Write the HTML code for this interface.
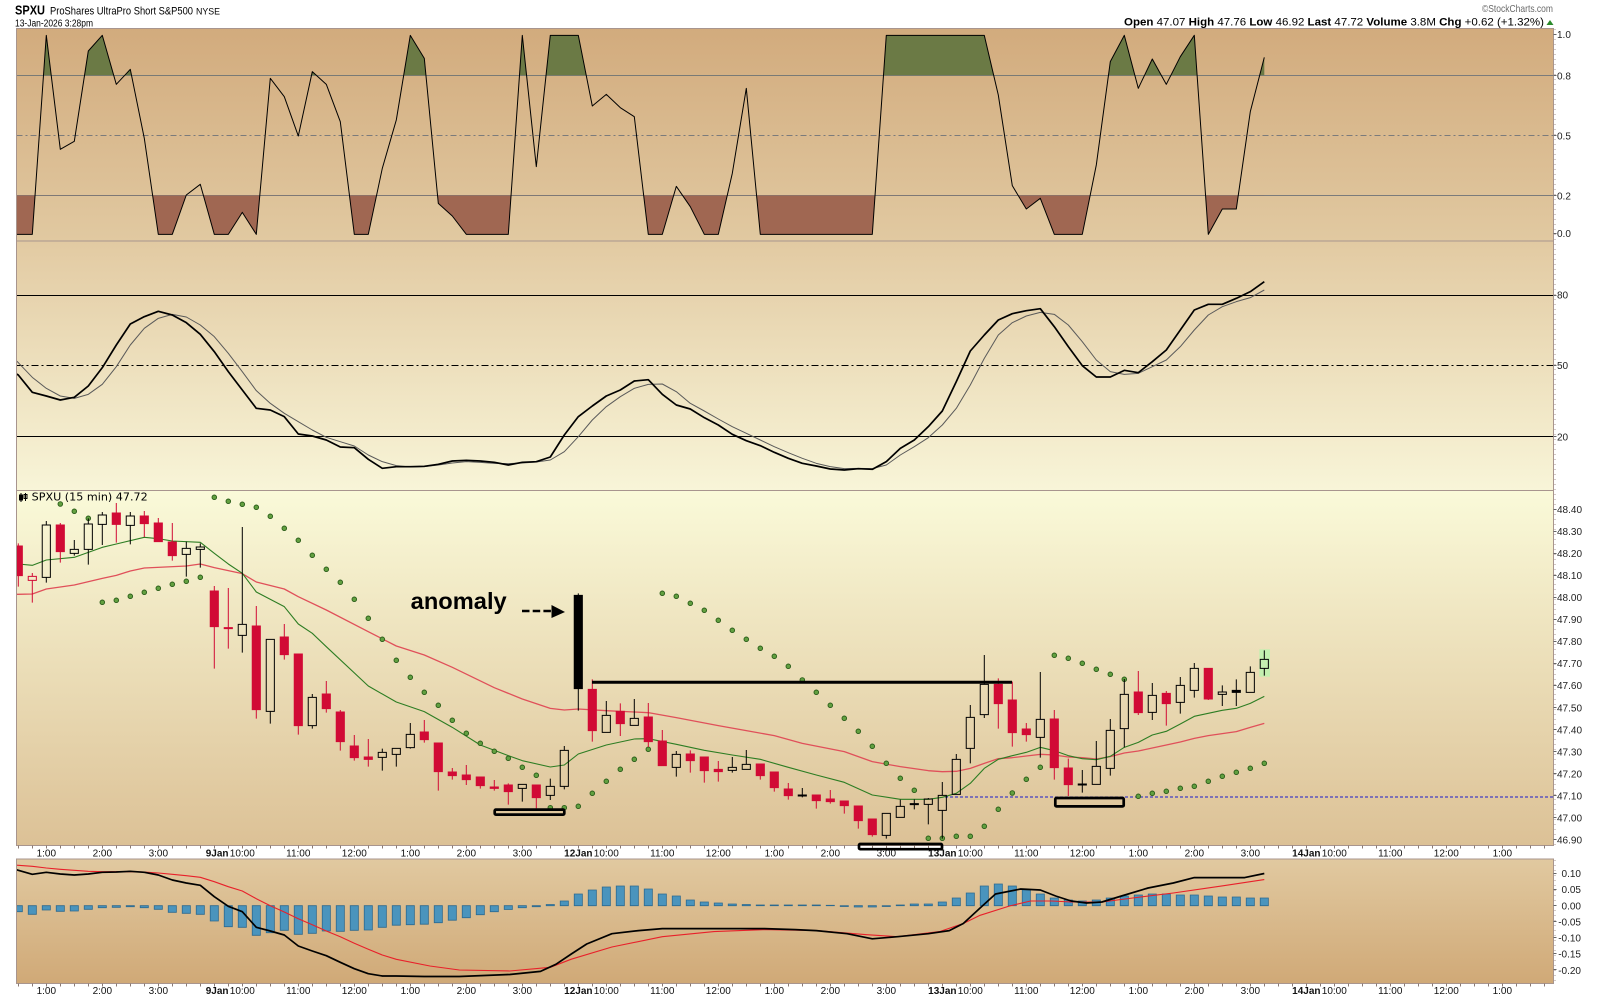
<!DOCTYPE html>
<html><head><meta charset="utf-8"><style>
html,body{margin:0;padding:0;background:#fff;}
svg{display:block;font-family:"Liberation Sans",Arial,sans-serif;}
</style></head><body>
<svg width="1600" height="1000" viewBox="0 0 1600 1000" xmlns="http://www.w3.org/2000/svg">
<defs>
<linearGradient id="gTop" x1="0" y1="0" x2="0" y2="1"><stop offset="0" stop-color="#d2ab7d"/><stop offset="1" stop-color="#e1c9a1"/></linearGradient>
<linearGradient id="gSto" x1="0" y1="0" x2="0" y2="1"><stop offset="0" stop-color="#e2caa2"/><stop offset="1" stop-color="#f8f5d8"/></linearGradient>
<linearGradient id="gPx" x1="0" y1="0" x2="0" y2="1"><stop offset="0" stop-color="#fafad9"/><stop offset="1" stop-color="#dcc196"/></linearGradient>
<linearGradient id="gMacd" x1="0" y1="0" x2="0" y2="1"><stop offset="0" stop-color="#e1c9a0"/><stop offset="1" stop-color="#d0a977"/></linearGradient>
<clipPath id="cTopG" clipPathUnits="userSpaceOnUse"><rect x="-5" y="0" width="100" height="151"/></clipPath>
<clipPath id="cTopB" clipPathUnits="userSpaceOnUse"><rect x="-5" y="511" width="100" height="300"/></clipPath>
<clipPath id="cTopP"><rect x="16.5" y="28.5" width="1537" height="212.5"/></clipPath>
<clipPath id="cSto"><rect x="16.5" y="241" width="1537" height="249.5"/></clipPath>
<clipPath id="cPx"><rect x="16.5" y="490.5" width="1537" height="355"/></clipPath>
<clipPath id="cMacd"><rect x="16.5" y="859" width="1537" height="124.5"/></clipPath>
</defs>

<!-- Header -->
<text x="15" y="14.5" font-weight="bold" font-size="13" textLength="30" lengthAdjust="spacingAndGlyphs" fill="#000">SPXU</text>
<text x="50" y="14.5" font-size="11" textLength="143" lengthAdjust="spacingAndGlyphs" fill="#000">ProShares UltraPro Short S&amp;P500</text>
<text x="196" y="14.5" font-size="9" textLength="24" lengthAdjust="spacingAndGlyphs" fill="#000">NYSE</text>
<text x="15" y="26.5" font-size="10" textLength="78" lengthAdjust="spacingAndGlyphs" fill="#000">13-Jan-2026 3:28pm</text>
<text x="1482" y="12" font-size="10.5" fill="#6a6a6a" textLength="71" lengthAdjust="spacingAndGlyphs">©StockCharts.com</text>
<text x="1124" y="25.5" font-size="11" textLength="420" lengthAdjust="spacingAndGlyphs" fill="#000"><tspan font-weight="bold">Open</tspan> 47.07 <tspan font-weight="bold">High</tspan> 47.76 <tspan font-weight="bold">Low</tspan> 46.92 <tspan font-weight="bold">Last</tspan> 47.72 <tspan font-weight="bold">Volume</tspan> 3.8M <tspan font-weight="bold">Chg</tspan> +0.62 (+1.32%)</text>
<polygon points="1546.5,25 1553.5,25 1550,20" fill="#2a8a2a"/>

<!-- Panels -->
<rect x="16.5" y="28.5" width="1537" height="212.5" fill="url(#gTop)"/>
<rect x="16.5" y="241" width="1537" height="249.5" fill="url(#gSto)"/>
<rect x="16.5" y="490.5" width="1537" height="355" fill="url(#gPx)"/>
<rect x="16.5" y="859" width="1537" height="124.5" fill="url(#gMacd)"/>

<!-- Top panel levels -->
<line x1="16.5" y1="75.5" x2="1553.5" y2="75.5" stroke="#7b7b7b" stroke-width="1"/>
<line x1="16.5" y1="135.5" x2="1553.5" y2="135.5" stroke="#7b7b7b" stroke-width="1" stroke-dasharray="6,3,2,3"/>
<line x1="16.5" y1="195.5" x2="1553.5" y2="195.5" stroke="#7b7b7b" stroke-width="1"/>

<g clip-path="url(#cTopP)">
<g transform="translate(18.3,25) scale(14,0.333333)">
<polygon clip-path="url(#cTopG)" fill="#6b7a45" points="0,151 0,628 1,628 2,31 3,373 4,349 5,78 6,31 7,178 8,133 9,340 10,628 11,628 12,510 13,478 14,628 15,628 16,562 17,628 18,160 19,215 20,333 21,140 22,178 23,290 24,628 25,628 26,430 27,285 28,31 29,100 30,535 31,573 32,628 33,628 34,628 35,628 36,31 37,425 38,31 39,31 40,31 41,243 42,208 43,248 44,275 45,628 46,628 47,484 48,545 49,628 50,628 51,445 52,190 53,628 54,628 55,628 56,628 57,628 58,628 59,628 60,628 61,628 62,31 63,31 64,31 65,31 66,31 67,31 68,31 69,31 70,210 71,482 72,552 73,520 74,628 75,628 76,628 77,420 78,110 79,31 80,190 81,102 82,178 83,95 84,31 85,628 86,552 87,552 88,260 89,97 89,151"/>
<polygon clip-path="url(#cTopB)" fill="#a06752" points="-0.2,511 -0.2,628 0,628 1,628 2,31 3,373 4,349 5,78 6,31 7,178 8,133 9,340 10,628 11,628 12,510 13,478 14,628 15,628 16,562 17,628 18,160 19,215 20,333 21,140 22,178 23,290 24,628 25,628 26,430 27,285 28,31 29,100 30,535 31,573 32,628 33,628 34,628 35,628 36,31 37,425 38,31 39,31 40,31 41,243 42,208 43,248 44,275 45,628 46,628 47,484 48,545 49,628 50,628 51,445 52,190 53,628 54,628 55,628 56,628 57,628 58,628 59,628 60,628 61,628 62,31 63,31 64,31 65,31 66,31 67,31 68,31 69,31 70,210 71,482 72,552 73,520 74,628 75,628 76,628 77,420 78,110 79,31 80,190 81,102 82,178 83,95 84,31 85,628 86,552 87,552 88,260 89,97 89,511"/>
<polyline fill="none" stroke="#000" stroke-width="1" vector-effect="non-scaling-stroke" stroke-linejoin="round" points="-0.2,628 0,628 1,628 2,31 3,373 4,349 5,78 6,31 7,178 8,133 9,340 10,628 11,628 12,510 13,478 14,628 15,628 16,562 17,628 18,160 19,215 20,333 21,140 22,178 23,290 24,628 25,628 26,430 27,285 28,31 29,100 30,535 31,573 32,628 33,628 34,628 35,628 36,31 37,425 38,31 39,31 40,31 41,243 42,208 43,248 44,275 45,628 46,628 47,484 48,545 49,628 50,628 51,445 52,190 53,628 54,628 55,628 56,628 57,628 58,628 59,628 60,628 61,628 62,31 63,31 64,31 65,31 66,31 67,31 68,31 69,31 70,210 71,482 72,552 73,520 74,628 75,628 76,628 77,420 78,110 79,31 80,190 81,102 82,178 83,95 84,31 85,628 86,552 87,552 88,260 89,97"/>
</g>
</g>

<!-- Stoch levels -->
<line x1="16.5" y1="295.5" x2="1553.5" y2="295.5" stroke="#000" stroke-width="1"/>
<line x1="16.5" y1="365.5" x2="1553.5" y2="365.5" stroke="#000" stroke-width="1" stroke-dasharray="7,3,2,3"/>
<line x1="16.5" y1="436.5" x2="1553.5" y2="436.5" stroke="#000" stroke-width="1"/>

<g clip-path="url(#cSto)">
<g transform="translate(18.3,25) scale(14,0.333333)">
<polyline fill="none" stroke="#5a5a5a" stroke-width="1" vector-effect="non-scaling-stroke" stroke-linejoin="round" points="-0.2,1005 0,1013 1,1057 2,1090 3,1113 4,1120 5,1108 6,1078 7,1025 8,960 9,910 10,880 11,868 12,876 13,900 14,935 15,985 16,1040 17,1097 18,1135 19,1165 20,1190 21,1215 22,1237 23,1250 24,1263 25,1290 26,1310 27,1322 28,1326 29,1325 30,1320 31,1314 32,1310 33,1312 34,1315 35,1316 36,1314 37,1311 38,1305 39,1280 40,1235 41,1185 42,1145 43,1115 44,1090 45,1078 46,1077 47,1100 48,1135 49,1158 50,1182 51,1205 52,1225 53,1245 54,1265 55,1283 56,1300 57,1315 58,1325 59,1331 60,1330 61,1331 62,1320 63,1290 64,1265 65,1238 66,1200 67,1150 68,1080 69,1000 70,930 71,893 72,873 73,862 74,868 75,900 76,950 77,1005 78,1040 79,1048 80,1045 81,1025 82,1005 83,965 84,915 85,870 86,845 87,830 88,818 89,795"/>
<polyline fill="none" stroke="#000" stroke-width="1.7" vector-effect="non-scaling-stroke" stroke-linejoin="round" points="-0.2,1045 0,1050 1,1102 2,1113 3,1125 4,1117 5,1083 6,1028 7,960 8,897 9,875 10,859 11,870 12,893 13,928 14,980 15,1040 16,1095 17,1150 18,1155 19,1175 20,1227 21,1233 22,1245 23,1266 24,1268 25,1303 26,1330 27,1325 28,1325 29,1324 30,1318 31,1308 32,1306 33,1308 34,1312 35,1320 36,1312 37,1310 38,1296 39,1230 40,1175 41,1143 42,1113 43,1095 44,1068 45,1064 46,1108 47,1140 48,1152 49,1178 50,1200 51,1228 52,1247 53,1262 54,1282 55,1300 56,1315 57,1323 58,1332 59,1335 60,1331 61,1333 62,1310 63,1270 64,1245 65,1205 66,1158 67,1070 68,978 69,930 70,885 71,866 72,857 73,851 74,905 75,965 76,1022 77,1056 78,1056 79,1036 80,1043 81,1010 82,975 83,915 84,855 85,838 86,838 87,820 88,800 89,770"/>
</g>
</g>

<!-- Price panel -->
<line x1="945" y1="797" x2="1553.5" y2="797" stroke="#1a1acc" stroke-width="1" stroke-dasharray="3,2"/>
<rect x="1259.3" y="649.3" width="10.7" height="27.4" fill="#c4f0b0"/>
<g clip-path="url(#cPx)">
<g transform="translate(18.3,490) scale(14,0.333333)">
<polyline fill="none" stroke="#e0505a" stroke-width="1.3" vector-effect="non-scaling-stroke" stroke-linejoin="round" points="-0.2,313 0,313 1,312 2,297 4,285 6,265 7,256 8,243 9,234 12,228 13,222 14,233 16,251 17,276 19,297 20,320 22,360 25,425 27,468 29,495 31,532 34,593 36,627 38,655 39,660 40,657 42,662 44,666 45,668 47,683 50,707 52,722 54,737 56,760 59,785 61,815 63,830 65,842 66,845 67,844 68,835 69,820 70,806 71,803 72,798 73,793 74,795 75,801 76,803 77,807 78,800 79,789 80,783 81,774 82,765 83,756 84,745 85,737 86,731 87,725 88,712 89,700"/>
<polyline fill="none" stroke="#2d7d23" stroke-width="1.1" vector-effect="non-scaling-stroke" stroke-linejoin="round" points="-0.2,222 0,222 1,226 2,210 4,202 6,172 7,162 9,142 10,146 11,153 13,157 14,190 15,222 16,250 17,306 19,350 20,402 21,430 22,470 25,588 27,636 29,665 31,712 33,765 35,797 36,812 38,831 39,825 40,792 42,765 44,747 45,746 47,763 49,781 51,795 53,808 55,832 57,855 59,877 61,915 63,928 65,928 66,922 67,910 68,880 69,835 70,808 71,797 72,787 73,772 74,782 75,797 76,806 77,809 78,799 79,772 80,757 81,735 82,724 83,702 84,679 85,670 86,661 87,655 88,640 89,619"/>
</g>
<g transform="translate(18.3,0)" fill="#62a040" stroke="#2c5e1a" stroke-width="0.9">
<circle cx="42" cy="504" r="2.3"/><circle cx="56" cy="511.3" r="2.3"/><circle cx="70" cy="518.3" r="2.3"/><circle cx="84" cy="602.3" r="2.3"/><circle cx="98" cy="600.3" r="2.3"/><circle cx="112" cy="596.3" r="2.3"/><circle cx="126" cy="592.3" r="2.3"/><circle cx="140" cy="588.3" r="2.3"/><circle cx="154" cy="584.3" r="2.3"/><circle cx="168" cy="581.3" r="2.3"/><circle cx="182" cy="577.3" r="2.3"/><circle cx="196" cy="497.3" r="2.3"/><circle cx="210" cy="501.3" r="2.3"/><circle cx="224" cy="504.3" r="2.3"/><circle cx="238" cy="507.3" r="2.3"/><circle cx="252" cy="516.3" r="2.3"/><circle cx="266" cy="528.3" r="2.3"/><circle cx="280" cy="540.3" r="2.3"/><circle cx="294" cy="555.3" r="2.3"/><circle cx="308" cy="569.3" r="2.3"/><circle cx="322" cy="582.3" r="2.3"/><circle cx="336" cy="599.3" r="2.3"/><circle cx="350" cy="618.3" r="2.3"/><circle cx="364" cy="639.3" r="2.3"/><circle cx="378" cy="660.3" r="2.3"/><circle cx="392" cy="677.3" r="2.3"/><circle cx="406" cy="692.3" r="2.3"/><circle cx="420" cy="705.3" r="2.3"/><circle cx="434" cy="720.3" r="2.3"/><circle cx="448" cy="733.3" r="2.3"/><circle cx="462" cy="743.3" r="2.3"/><circle cx="476" cy="751.3" r="2.3"/><circle cx="490" cy="758.3" r="2.3"/><circle cx="504" cy="767.3" r="2.3"/><circle cx="518" cy="775.3" r="2.3"/><circle cx="532" cy="807.7" r="2.3"/><circle cx="546" cy="807.7" r="2.3"/><circle cx="560" cy="806.3" r="2.3"/><circle cx="574" cy="793.3" r="2.3"/><circle cx="588" cy="781.3" r="2.3"/><circle cx="602" cy="769.3" r="2.3"/><circle cx="616" cy="759.3" r="2.3"/><circle cx="630" cy="749.3" r="2.3"/><circle cx="644" cy="593.3" r="2.3"/><circle cx="658" cy="596.3" r="2.3"/><circle cx="672" cy="603.3" r="2.3"/><circle cx="686" cy="610.3" r="2.3"/><circle cx="700" cy="620.3" r="2.3"/><circle cx="714" cy="630.3" r="2.3"/><circle cx="728" cy="639.3" r="2.3"/><circle cx="742" cy="648.3" r="2.3"/><circle cx="756" cy="656.3" r="2.3"/><circle cx="770" cy="666.3" r="2.3"/><circle cx="784" cy="680" r="2.3"/><circle cx="798" cy="692.3" r="2.3"/><circle cx="812" cy="705.3" r="2.3"/><circle cx="826" cy="718.3" r="2.3"/><circle cx="840" cy="731.3" r="2.3"/><circle cx="854" cy="746.3" r="2.3"/><circle cx="868" cy="763.3" r="2.3"/><circle cx="882" cy="778.3" r="2.3"/><circle cx="896" cy="790.3" r="2.3"/><circle cx="910" cy="838.3" r="2.3"/><circle cx="924" cy="838.3" r="2.3"/><circle cx="938" cy="836.3" r="2.3"/><circle cx="952" cy="836.3" r="2.3"/><circle cx="966" cy="826.3" r="2.3"/><circle cx="980" cy="809.3" r="2.3"/><circle cx="994" cy="793" r="2.3"/><circle cx="1008" cy="779.3" r="2.3"/><circle cx="1022" cy="767.3" r="2.3"/><circle cx="1036" cy="655.3" r="2.3"/><circle cx="1050" cy="658.3" r="2.3"/><circle cx="1064" cy="663.3" r="2.3"/><circle cx="1078" cy="669.3" r="2.3"/><circle cx="1092" cy="674.3" r="2.3"/><circle cx="1106" cy="679.3" r="2.3"/><circle cx="1120" cy="796.3" r="2.3"/><circle cx="1134" cy="793.3" r="2.3"/><circle cx="1148" cy="791.3" r="2.3"/><circle cx="1162" cy="788.3" r="2.3"/><circle cx="1176" cy="786.3" r="2.3"/><circle cx="1190" cy="781.3" r="2.3"/><circle cx="1204" cy="776.3" r="2.3"/><circle cx="1218" cy="772.3" r="2.3"/><circle cx="1232" cy="768.3" r="2.3"/><circle cx="1246" cy="763.3" r="2.3"/>
</g>
<g transform="translate(18.3,490) scale(14,0.333333)">
<path fill="none" stroke="#d10a35" stroke-width="1" vector-effect="non-scaling-stroke" d="M0,160V290M3,99V218M7,39V158M9,63V141M10,84V155M11,99V212M14,288V536M15,294V476M17,348V686M19,402V509M20,492V734M22,573V668M23,660V782M24,735V812M25,747V830M29,690V758M30,759V902M31,834V869M32,825V885M33,861V896M34,870V902M35,880V944M37,885V955M41,568V755M43,640V738M45,639V771M46,720V827M48,781V848M49,801V878M50,813V875M53,822V869M54,846V905M55,879V929M57,915V956M58,900V941M59,933V971M60,948V1016M61,987V1040M70,565V716M71,575V770M72,699V755M74,660V869M75,806V918M80,543V675M82,603V707M85,535V630M1,249V259M1,271V338"/>
<path fill="#d10a35" stroke="#d10a35" stroke-width="1" vector-effect="non-scaling-stroke" d="M-0.29,168h.58V257h-.58zM2.71,105h.58V185h-.58zM6.71,69h.58V103h-.58zM8.71,78h.58V101h-.58zM9.71,99h.58V155h-.58zM10.71,156h.58V197h-.58zM13.71,303h.58V410h-.58zM14.71,413h.58V416h-.58zM16.71,408h.58V659h-.58zM18.71,441h.58V494h-.58zM19.71,492h.58V707h-.58zM21.71,612h.58V656h-.58zM22.71,666h.58V755h-.58zM23.71,768h.58V803h-.58zM24.71,801h.58V808h-.58zM28.71,726h.58V749h-.58zM29.71,759h.58V845h-.58zM30.71,846h.58V857h-.58zM31.71,855h.58V869h-.58zM32.71,861h.58V887h-.58zM33.71,891h.58V895h-.58zM34.71,885h.58V905h-.58zM36.71,885h.58V923h-.58zM40.71,598h.58V722h-.58zM42.71,664h.58V701h-.58zM44.71,681h.58V755h-.58zM45.71,753h.58V827h-.58zM47.71,792h.58V812h-.58zM48.71,801h.58V842h-.58zM49.71,838h.58V845h-.58zM52.71,822h.58V857h-.58zM53.71,846h.58V893h-.58zM54.71,897h.58V917h-.58zM56.71,915h.58V932h-.58zM57.71,927h.58V935h-.58zM58.71,933h.58V947h-.58zM59.71,948h.58V992h-.58zM60.71,987h.58V1034h-.58zM69.71,583h.58V641h-.58zM70.71,630h.58V728h-.58zM71.71,717h.58V734h-.58zM73.71,687h.58V833h-.58zM74.71,834h.58V884h-.58zM79.71,606h.58V668h-.58zM81.71,610h.58V641h-.58zM84.71,535h.58V627h-.58z"/>
<path fill="none" stroke="#d10a35" stroke-width="1" vector-effect="non-scaling-stroke" d="M0.71,259h.58V271h-.58z"/>
<path fill="none" stroke="#000" stroke-width="1" vector-effect="non-scaling-stroke" d="M2,93V105M2,262V278M4,150V178M4,190V197M5,85V102M5,178V224M6,66V75M6,103V165M8,66V78M8,106V163M12,155V175M12,193V260M13,160V171M13,178V233M16,111V403M16,436V488M18,664V701M21,612V622M21,707V716M26,776V787M26,802V842M27,793V830M28,699V733M28,773V776M36,895V935M38,866V889M38,916V930M39,768V781M39,889V898M42,633V676M44,627V685M47,783V793M47,832V860M51,801V832M51,841V848M52,780V823M56,894V915M56,918V922M62,1036V1046M63,929V949M64,928V941M64,944V958M65,924V927M65,943V1003M66,876V916M66,961V1046M67,792V808M68,645V682M68,775V820M69,495V583M69,674V684M73,546V688M73,742V803M76,840V882M76,885V908M77,753V829M78,687V721M78,835V857M79,567V613M79,716V772M81,579V616M81,667V690M83,561V586M83,637V671M84,519V535M84,601V623M86,586V606M86,613V648M88,529V547M89,481V508M89,535V557M40,310V662M87,568V648"/>
<path fill="none" stroke="#000" stroke-width="1" vector-effect="non-scaling-stroke" d="M1.71,105h.58V262h-.58zM3.71,178h.58V190h-.58zM4.71,102h.58V178h-.58zM5.71,75h.58V103h-.58zM7.71,78h.58V106h-.58zM11.71,175h.58V193h-.58zM12.71,171h.58V178h-.58zM15.71,403h.58V436h-.58zM17.71,448h.58V664h-.58zM20.71,622h.58V707h-.58zM25.71,787h.58V802h-.58zM26.71,775h.58V793h-.58zM27.71,733h.58V773h-.58zM35.71,883h.58V895h-.58zM37.71,889h.58V916h-.58zM38.71,781h.58V889h-.58zM41.71,676h.58V727h-.58zM43.71,685h.58V706h-.58zM46.71,793h.58V832h-.58zM50.71,832h.58V841h-.58zM51.71,823h.58V838h-.58zM55.71,915h.58V918h-.58zM61.71,970h.58V1036h-.58zM62.71,949h.58V982h-.58zM63.71,941h.58V944h-.58zM64.71,927h.58V943h-.58zM65.71,916h.58V961h-.58zM66.71,808h.58V913h-.58zM67.71,682h.58V775h-.58zM68.71,583h.58V674h-.58zM72.71,688h.58V742h-.58zM75.71,882h.58V885h-.58zM76.71,829h.58V883h-.58zM77.71,721h.58V835h-.58zM78.71,613h.58V716h-.58zM80.71,616h.58V667h-.58zM82.71,586h.58V637h-.58zM83.71,535h.58V601h-.58zM85.71,606h.58V613h-.58zM87.71,547h.58V607h-.58zM88.71,508h.58V535h-.58z"/>
<path fill="#000" stroke="#000" stroke-width="1" vector-effect="non-scaling-stroke" d="M39.71,316h.58V596h-.58zM86.71,601h.58V607h-.58z"/>
</g>
</g>

<!-- Legend in price panel -->
<g fill="#000" stroke="#000" stroke-width="1">
<line x1="21" y1="493" x2="21" y2="502"/><rect x="19.5" y="495" width="3" height="5"/>
<line x1="25.5" y1="493" x2="25.5" y2="501"/><rect x="24" y="494.5" width="3" height="4" fill="none"/>
</g>
<text x="31.7" y="500.5" font-family="'DejaVu Sans','Liberation Sans',sans-serif" font-size="10.5" textLength="116" lengthAdjust="spacingAndGlyphs" fill="#000">SPXU (15 min) 47.72</text>

<!-- Annotations -->
<text x="410.7" y="609" font-weight="bold" font-size="23" textLength="96" lengthAdjust="spacingAndGlyphs" fill="#000">anomaly</text>
<line x1="522" y1="611" x2="553" y2="611" stroke="#000" stroke-width="2.4" stroke-dasharray="7.5,3.2"/>
<polygon points="551.5,605 565,612 551.5,618" fill="#000"/>
<line x1="592" y1="682.3" x2="1012" y2="682.3" stroke="#000" stroke-width="3"/>
<rect x="494.7" y="809.6" width="69.6" height="5" rx="1.2" fill="none" stroke="#000" stroke-width="2.7"/>
<rect x="1055.3" y="798" width="68.4" height="8.4" rx="1.2" fill="none" stroke="#000" stroke-width="2.7"/>

<!-- MACD -->
<g clip-path="url(#cMacd)">
<g transform="translate(18.3,0) scale(14,1)" fill="#4a94bd" stroke="#2c6a90" stroke-width="0.8">
<rect vector-effect="non-scaling-stroke" x="-0.29" y="905.7" width=".58" height="6"/>
<rect vector-effect="non-scaling-stroke" x="0.71" y="905.7" width=".58" height="8.6"/>
<rect vector-effect="non-scaling-stroke" x="1.71" y="905.7" width=".58" height="4.3"/>
<rect vector-effect="non-scaling-stroke" x="2.71" y="905.7" width=".58" height="5.6"/>
<rect vector-effect="non-scaling-stroke" x="3.71" y="905.7" width=".58" height="5.3"/>
<rect vector-effect="non-scaling-stroke" x="4.71" y="905.7" width=".58" height="3.6"/>
<rect vector-effect="non-scaling-stroke" x="5.71" y="905.7" width=".58" height="2"/>
<rect vector-effect="non-scaling-stroke" x="6.71" y="905.7" width=".58" height="1.6"/>
<rect vector-effect="non-scaling-stroke" x="7.71" y="905.7" width=".58" height="1"/>
<rect vector-effect="non-scaling-stroke" x="8.71" y="905.7" width=".58" height="2"/>
<rect vector-effect="non-scaling-stroke" x="9.71" y="905.7" width=".58" height="3.6"/>
<rect vector-effect="non-scaling-stroke" x="10.71" y="905.7" width=".58" height="6.6"/>
<rect vector-effect="non-scaling-stroke" x="11.71" y="905.7" width=".58" height="7.6"/>
<rect vector-effect="non-scaling-stroke" x="12.71" y="905.7" width=".58" height="8.6"/>
<rect vector-effect="non-scaling-stroke" x="13.71" y="905.7" width=".58" height="15.3"/>
<rect vector-effect="non-scaling-stroke" x="14.71" y="905.7" width=".58" height="21"/>
<rect vector-effect="non-scaling-stroke" x="15.71" y="905.7" width=".58" height="21.6"/>
<rect vector-effect="non-scaling-stroke" x="16.71" y="905.7" width=".58" height="29.6"/>
<rect vector-effect="non-scaling-stroke" x="17.71" y="905.7" width=".58" height="27"/>
<rect vector-effect="non-scaling-stroke" x="18.71" y="905.7" width=".58" height="24.6"/>
<rect vector-effect="non-scaling-stroke" x="19.71" y="905.7" width=".58" height="28.6"/>
<rect vector-effect="non-scaling-stroke" x="20.71" y="905.7" width=".58" height="27.6"/>
<rect vector-effect="non-scaling-stroke" x="21.71" y="905.7" width=".58" height="25.3"/>
<rect vector-effect="non-scaling-stroke" x="22.71" y="905.7" width=".58" height="25.6"/>
<rect vector-effect="non-scaling-stroke" x="23.71" y="905.7" width=".58" height="24.6"/>
<rect vector-effect="non-scaling-stroke" x="24.71" y="905.7" width=".58" height="24.3"/>
<rect vector-effect="non-scaling-stroke" x="25.71" y="905.7" width=".58" height="21.6"/>
<rect vector-effect="non-scaling-stroke" x="26.71" y="905.7" width=".58" height="19.5"/>
<rect vector-effect="non-scaling-stroke" x="27.71" y="905.7" width=".58" height="19"/>
<rect vector-effect="non-scaling-stroke" x="28.71" y="905.7" width=".58" height="18.5"/>
<rect vector-effect="non-scaling-stroke" x="29.71" y="905.7" width=".58" height="17"/>
<rect vector-effect="non-scaling-stroke" x="30.71" y="905.7" width=".58" height="14.5"/>
<rect vector-effect="non-scaling-stroke" x="31.71" y="905.7" width=".58" height="12"/>
<rect vector-effect="non-scaling-stroke" x="32.71" y="905.7" width=".58" height="9"/>
<rect vector-effect="non-scaling-stroke" x="33.71" y="905.7" width=".58" height="6"/>
<rect vector-effect="non-scaling-stroke" x="34.71" y="905.7" width=".58" height="3.8"/>
<rect vector-effect="non-scaling-stroke" x="35.71" y="905.7" width=".58" height="2"/>
<rect vector-effect="non-scaling-stroke" x="36.71" y="905.7" width=".58" height="1"/>
<rect vector-effect="non-scaling-stroke" x="37.71" y="904.5" width=".58" height="1.2"/>
<rect vector-effect="non-scaling-stroke" x="38.71" y="901" width=".58" height="4.7"/>
<rect vector-effect="non-scaling-stroke" x="39.71" y="894" width=".58" height="11.7"/>
<rect vector-effect="non-scaling-stroke" x="40.71" y="890" width=".58" height="15.7"/>
<rect vector-effect="non-scaling-stroke" x="41.71" y="887" width=".58" height="18.7"/>
<rect vector-effect="non-scaling-stroke" x="42.71" y="886" width=".58" height="19.7"/>
<rect vector-effect="non-scaling-stroke" x="43.71" y="886" width=".58" height="19.7"/>
<rect vector-effect="non-scaling-stroke" x="44.71" y="889" width=".58" height="16.7"/>
<rect vector-effect="non-scaling-stroke" x="45.71" y="894" width=".58" height="11.7"/>
<rect vector-effect="non-scaling-stroke" x="46.71" y="896" width=".58" height="9.7"/>
<rect vector-effect="non-scaling-stroke" x="47.71" y="900" width=".58" height="5.7"/>
<rect vector-effect="non-scaling-stroke" x="48.71" y="902" width=".58" height="3.7"/>
<rect vector-effect="non-scaling-stroke" x="49.71" y="903" width=".58" height="2.7"/>
<rect vector-effect="non-scaling-stroke" x="50.71" y="904" width=".58" height="1.7"/>
<rect vector-effect="non-scaling-stroke" x="51.71" y="904.5" width=".58" height="1.2"/>
<rect vector-effect="non-scaling-stroke" x="52.71" y="905" width=".58" height="0.7"/>
<rect vector-effect="non-scaling-stroke" x="53.71" y="905" width=".58" height="0.7"/>
<rect vector-effect="non-scaling-stroke" x="54.71" y="905" width=".58" height="0.7"/>
<rect vector-effect="non-scaling-stroke" x="55.71" y="905" width=".58" height="0.7"/>
<rect vector-effect="non-scaling-stroke" x="56.71" y="905" width=".58" height="0.7"/>
<rect vector-effect="non-scaling-stroke" x="57.71" y="905.3" width=".58" height="0.4"/>
<rect vector-effect="non-scaling-stroke" x="58.71" y="905.7" width=".58" height="0.8"/>
<rect vector-effect="non-scaling-stroke" x="59.71" y="905.7" width=".58" height="1.3"/>
<rect vector-effect="non-scaling-stroke" x="60.71" y="905.7" width=".58" height="1.3"/>
<rect vector-effect="non-scaling-stroke" x="61.71" y="905.7" width=".58" height="0.8"/>
<rect vector-effect="non-scaling-stroke" x="62.71" y="905" width=".58" height="0.7"/>
<rect vector-effect="non-scaling-stroke" x="63.71" y="904" width=".58" height="1.7"/>
<rect vector-effect="non-scaling-stroke" x="64.71" y="904" width=".58" height="1.7"/>
<rect vector-effect="non-scaling-stroke" x="65.71" y="902" width=".58" height="3.7"/>
<rect vector-effect="non-scaling-stroke" x="66.71" y="898" width=".58" height="7.7"/>
<rect vector-effect="non-scaling-stroke" x="67.71" y="893" width=".58" height="12.7"/>
<rect vector-effect="non-scaling-stroke" x="68.71" y="886" width=".58" height="19.7"/>
<rect vector-effect="non-scaling-stroke" x="69.71" y="884" width=".58" height="21.7"/>
<rect vector-effect="non-scaling-stroke" x="70.71" y="886" width=".58" height="19.7"/>
<rect vector-effect="non-scaling-stroke" x="71.71" y="890" width=".58" height="15.7"/>
<rect vector-effect="non-scaling-stroke" x="72.71" y="894" width=".58" height="11.7"/>
<rect vector-effect="non-scaling-stroke" x="73.71" y="898" width=".58" height="7.7"/>
<rect vector-effect="non-scaling-stroke" x="74.71" y="900" width=".58" height="5.7"/>
<rect vector-effect="non-scaling-stroke" x="75.71" y="901" width=".58" height="4.7"/>
<rect vector-effect="non-scaling-stroke" x="76.71" y="900" width=".58" height="5.7"/>
<rect vector-effect="non-scaling-stroke" x="77.71" y="898" width=".58" height="7.7"/>
<rect vector-effect="non-scaling-stroke" x="78.71" y="896" width=".58" height="9.7"/>
<rect vector-effect="non-scaling-stroke" x="79.71" y="895" width=".58" height="10.7"/>
<rect vector-effect="non-scaling-stroke" x="80.71" y="894" width=".58" height="11.7"/>
<rect vector-effect="non-scaling-stroke" x="81.71" y="894" width=".58" height="11.7"/>
<rect vector-effect="non-scaling-stroke" x="82.71" y="895" width=".58" height="10.7"/>
<rect vector-effect="non-scaling-stroke" x="83.71" y="895" width=".58" height="10.7"/>
<rect vector-effect="non-scaling-stroke" x="84.71" y="896" width=".58" height="9.7"/>
<rect vector-effect="non-scaling-stroke" x="85.71" y="897" width=".58" height="8.7"/>
<rect vector-effect="non-scaling-stroke" x="86.71" y="897" width=".58" height="8.7"/>
<rect vector-effect="non-scaling-stroke" x="87.71" y="898" width=".58" height="7.7"/>
<rect vector-effect="non-scaling-stroke" x="88.71" y="898" width=".58" height="7.7"/>
</g>
<g transform="translate(18.3,0) scale(14,1)" fill="none">
<polyline stroke="#e8202a" stroke-width="1.1" vector-effect="non-scaling-stroke" stroke-linejoin="round" points="-0.2,865.2 0,865.3 1,866.3 2,868 3,869.3 4,870.3 5,871.3 6,871.7 7,871.7 8,871.7 9,872 10,873 11,874.3 12,875.7 13,877.3 14,881.7 15,886.7 16,891 17,898.7 18,905.7 19,912 20,918.7 21,924.7 22,931 23,936.7 24,943.3 25,949.3 26,955 27,959.3 29.4,966 31.5,970 35.1,971 38,967.3 39.5,959.2 42.4,947 46,936.7 49.7,931.6 53.3,929.6 57,930.6 60.6,934.7 62.8,936.7 65.8,931.6 67.5,923.5 68.7,915.3 70.8,906 72.3,901 73.8,901 75.2,902 77.4,902 79.6,898 82.5,893 86.1,885.7 89,879.6"/>
<polyline stroke="#000" stroke-width="1.7" vector-effect="non-scaling-stroke" stroke-linejoin="round" points="-0.2,869.5 0,870.3 1,874.3 2,872.3 3,874 4,875 5,874 6,872.3 7,872 8,871.3 9,872.3 10,875 11,880 12,883 13,885.3 14,896.7 15,906.3 16,911.7 17,927.3 18,931 19,935 20,946 21,951 22,955.7 23,962.3 24,968.7 25,973.7 26,976 27,976 29,976.5 31.5,976.5 35.1,974.5 37.3,971.4 38.4,964.3 39.5,954 40.6,944 42.4,933.7 44.3,930.6 46,928.6 49.7,928.6 53.3,928.6 55.5,929.6 57,930.6 59.2,933.7 61,938.8 62.8,936.7 65,933.7 66.5,930.6 67.5,923.5 68.7,908 69.8,894 71.6,889 73,890 74.1,896 75.2,901 76.3,903 77.4,902 78.8,896 80.7,888 82.5,883 84,877.6 86.1,877.6 87.6,877.6 89,873.5"/>
</g>
</g>

<!-- Panel borders -->
<g fill="none" stroke="#a8958e" stroke-width="1">
<rect x="16.5" y="28.5" width="1537" height="212.5"/>
<rect x="16.5" y="241" width="1537" height="249.5"/>
<rect x="16.5" y="490.5" width="1537" height="355"/>
<rect x="16.5" y="859" width="1537" height="124.5"/>
</g>
<line x1="1555" y1="29" x2="1555" y2="845" stroke="#a8958e" stroke-width="1" stroke-dasharray="1,4"/>
<line x1="1555" y1="860" x2="1555" y2="983" stroke="#a8958e" stroke-width="1" stroke-dasharray="1,4"/>
<line x1="18" y1="847" x2="1553" y2="847" stroke="#8a7a74" stroke-width="3" stroke-dasharray="1,13"/>
<line x1="18" y1="985" x2="1553" y2="985" stroke="#8a7a74" stroke-width="3" stroke-dasharray="1,13"/>

<path stroke="#666" stroke-width="1" d="M1553.5,34.5h3M1553.5,75.5h3M1553.5,135.5h3M1553.5,195.5h3M1553.5,233.5h3M1553.5,295.5h3M1553.5,365.5h3M1553.5,436.5h3M1553.5,509.5h3M1553.5,531.5h3M1553.5,553.5h3M1553.5,575.5h3M1553.5,597.5h3M1553.5,619.5h3M1553.5,641.5h3M1553.5,663.5h3M1553.5,685.5h3M1553.5,707.5h3M1553.5,729.5h3M1553.5,751.5h3M1553.5,773.5h3M1553.5,795.5h3M1553.5,817.5h3M1553.5,839.5h3M1553.5,873.5h3M1553.5,889.5h3M1553.5,905.5h3M1553.5,921.5h3M1553.5,937.5h3M1553.5,953.5h3M1553.5,969.5h3"/>

<g font-size="10" fill="#222">
<text x="1557" y="38">1.0</text>
<text x="1557" y="79.3">0.8</text>
<text x="1557" y="139.3">0.5</text>
<text x="1557" y="199.3">0.2</text>
<text x="1557" y="237">0.0</text>
<text x="1557" y="298.6">80</text>
<text x="1557" y="369">50</text>
<text x="1557" y="440.3">20</text>
<text x="1557" y="512.9">48.40</text>
<text x="1557" y="534.9">48.30</text>
<text x="1557" y="557">48.20</text>
<text x="1557" y="579">48.10</text>
<text x="1557" y="601.1">48.00</text>
<text x="1557" y="623.1">47.90</text>
<text x="1557" y="645.1">47.80</text>
<text x="1557" y="667.2">47.70</text>
<text x="1557" y="689.2">47.60</text>
<text x="1557" y="711.3">47.50</text>
<text x="1557" y="733.3">47.40</text>
<text x="1557" y="755.3">47.30</text>
<text x="1557" y="777.4">47.20</text>
<text x="1557" y="799.4">47.10</text>
<text x="1557" y="821.5">47.00</text>
<text x="1557" y="843.5">46.90</text>
</g>
<g font-size="10" fill="#222" text-anchor="end">
<text x="1581" y="876.9">0.10</text>
<text x="1581" y="893.1">0.05</text>
<text x="1581" y="909.3">0.00</text>
<text x="1581" y="925.4">-0.05</text>
<text x="1581" y="941.5">-0.10</text>
<text x="1581" y="957.6">-0.15</text>
<text x="1581" y="973.8">-0.20</text>
</g>

<g font-size="10" fill="#111" text-anchor="middle">
<text x="46.3" y="856.5">1:00</text><text x="102.3" y="856.5">2:00</text><text x="158.3" y="856.5">3:00</text>
<text x="242.3" y="856.5">10:00</text><text x="298.3" y="856.5">11:00</text><text x="354.3" y="856.5">12:00</text>
<text x="410.3" y="856.5">1:00</text><text x="466.3" y="856.5">2:00</text><text x="522.3" y="856.5">3:00</text>
<text x="606.3" y="856.5">10:00</text><text x="662.3" y="856.5">11:00</text><text x="718.3" y="856.5">12:00</text>
<text x="774.3" y="856.5">1:00</text><text x="830.3" y="856.5">2:00</text><text x="886.3" y="856.5">3:00</text>
<text x="970.3" y="856.5">10:00</text><text x="1026.3" y="856.5">11:00</text><text x="1082.3" y="856.5">12:00</text>
<text x="1138.3" y="856.5">1:00</text><text x="1194.3" y="856.5">2:00</text><text x="1250.3" y="856.5">3:00</text>
<text x="1334.3" y="856.5">10:00</text><text x="1390.3" y="856.5">11:00</text><text x="1446.3" y="856.5">12:00</text>
<text x="1502.3" y="856.5">1:00</text>
</g>
<g font-size="10" fill="#111" font-weight="bold" text-anchor="end">
<text x="228.5" y="856.5">9Jan</text><text x="592.5" y="856.5">12Jan</text><text x="956.5" y="856.5">13Jan</text><text x="1320.5" y="856.5">14Jan</text>
</g>
<g font-size="10" fill="#111" text-anchor="middle">
<text x="46.3" y="994">1:00</text><text x="102.3" y="994">2:00</text><text x="158.3" y="994">3:00</text>
<text x="242.3" y="994">10:00</text><text x="298.3" y="994">11:00</text><text x="354.3" y="994">12:00</text>
<text x="410.3" y="994">1:00</text><text x="466.3" y="994">2:00</text><text x="522.3" y="994">3:00</text>
<text x="606.3" y="994">10:00</text><text x="662.3" y="994">11:00</text><text x="718.3" y="994">12:00</text>
<text x="774.3" y="994">1:00</text><text x="830.3" y="994">2:00</text><text x="886.3" y="994">3:00</text>
<text x="970.3" y="994">10:00</text><text x="1026.3" y="994">11:00</text><text x="1082.3" y="994">12:00</text>
<text x="1138.3" y="994">1:00</text><text x="1194.3" y="994">2:00</text><text x="1250.3" y="994">3:00</text>
<text x="1334.3" y="994">10:00</text><text x="1390.3" y="994">11:00</text><text x="1446.3" y="994">12:00</text>
<text x="1502.3" y="994">1:00</text>
</g>
<g font-size="10" fill="#111" font-weight="bold" text-anchor="end">
<text x="228.5" y="994">9Jan</text><text x="592.5" y="994">12Jan</text><text x="956.5" y="994">13Jan</text><text x="1320.5" y="994">14Jan</text>
</g>

<rect x="859" y="844" width="83" height="5.2" rx="1.2" fill="none" stroke="#000" stroke-width="2.7"/>
</svg>
</body></html>
